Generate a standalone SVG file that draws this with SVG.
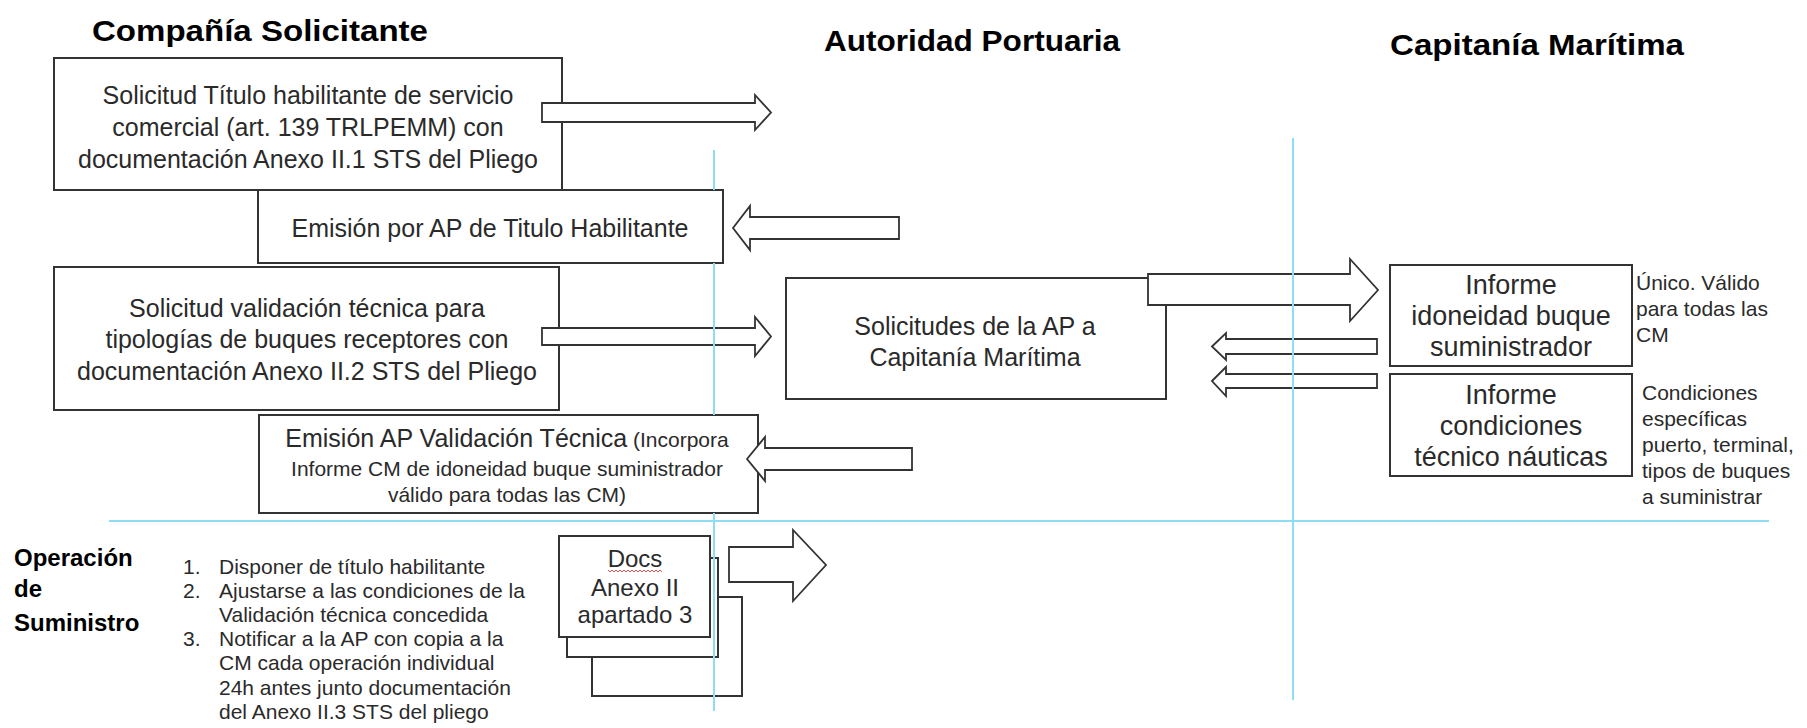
<svg xmlns="http://www.w3.org/2000/svg" width="1807" height="728" viewBox="0 0 1807 728">
<style>
.box{fill:#fff;stroke:#333;stroke-width:2}
.arr{fill:#fff;stroke:#333;stroke-width:1.8;stroke-linejoin:miter}
.guide{stroke:#8fdcf5;stroke-width:2;fill:none}
.t{font-family:"Liberation Sans",Arial,sans-serif;fill:#2a2a2a}
.c{text-anchor:middle}
.h{font-weight:bold;fill:#000}
.b25{font-size:25px}
.b27{font-size:27px}
.s21{font-size:21px}
</style>
<rect width="1807" height="728" fill="#fff"/>

<g id="titles">
<text class="t h" x="92" y="41" font-size="30" textLength="336" lengthAdjust="spacingAndGlyphs">Compañía Solicitante</text>
<text class="t h" x="824" y="51" font-size="30" textLength="296" lengthAdjust="spacingAndGlyphs">Autoridad Portuaria</text>
<text class="t h" x="1390" y="55" font-size="30" textLength="294" lengthAdjust="spacingAndGlyphs">Capitanía Marítima</text>
</g>

<g id="n1">
<rect class="box" x="54" y="58" width="508" height="132"/>
<text class="t c b25" x="308" y="104">Solicitud Título habilitante de servicio</text>
<text class="t c b25" x="308" y="136">comercial (art. 139 TRLPEMM) con</text>
<text class="t c b25" x="308" y="168">documentación Anexo II.1 STS del Pliego</text>
</g>

<g id="n2">
<rect class="box" x="258" y="190" width="465" height="73"/>
<text class="t c b25" x="490" y="237">Emisión por AP de Titulo Habilitante</text>
</g>

<g id="n3">
<rect class="box" x="54" y="267" width="505" height="143"/>
<text class="t c b25" x="307" y="317">Solicitud validación técnica para</text>
<text class="t c b25" x="307" y="348">tipologías de buques receptores con</text>
<text class="t c b25" x="307" y="380">documentación Anexo II.2 STS del Pliego</text>
</g>

<g id="n4">
<rect class="box" x="786" y="278" width="380" height="121"/>
<text class="t c b25" x="975" y="335">Solicitudes de la AP a</text>
<text class="t c b25" x="975" y="366">Capitanía Marítima</text>
</g>

<g id="n5">
<rect class="box" x="1390" y="265" width="242" height="101"/>
<text class="t c b27" x="1511" y="294">Informe</text>
<text class="t c b27" x="1511" y="325">idoneidad buque</text>
<text class="t c b27" x="1511" y="356">suministrador</text>
</g>

<g id="n6">
<rect class="box" x="1390" y="374" width="242" height="102"/>
<text class="t c b27" x="1511" y="404">Informe</text>
<text class="t c b27" x="1511" y="435">condiciones</text>
<text class="t c b27" x="1511" y="466">técnico náuticas</text>
</g>

<g id="n7">
<rect class="box" x="259" y="415" width="499" height="98"/>
<text class="t c" x="507" y="447"><tspan font-size="25">Emisión AP Validación Técnica</tspan><tspan font-size="21"> (Incorpora</tspan></text>
<text class="t c s21" x="507" y="476">Informe CM de idoneidad buque suministrador</text>
<text class="t c s21" x="507" y="502">válido para todas las CM)</text>
</g>

<g id="note1">
<text class="t s21" x="1636" y="290">Único. Válido</text>
<text class="t s21" x="1636" y="316">para todas las</text>
<text class="t s21" x="1636" y="342">CM</text>
</g>

<g id="note2">
<text class="t s21" x="1642" y="400">Condiciones</text>
<text class="t s21" x="1642" y="426">específicas</text>
<text class="t s21" x="1642" y="452">puerto, terminal,</text>
<text class="t s21" x="1642" y="478">tipos de buques</text>
<text class="t s21" x="1642" y="504">a suministrar</text>
</g>

<g id="operacion">
<text class="t h" x="14" y="566" font-size="24">Operación</text>
<text class="t h" x="14" y="597" font-size="24">de</text>
<text class="t h" x="14" y="631" font-size="24">Suministro</text>
</g>

<g id="lista">
<text class="t s21" x="183" y="574">1.</text>
<text class="t s21" x="219" y="574">Disponer de título habilitante</text>
<text class="t s21" x="183" y="598">2.</text>
<text class="t s21" x="219" y="598">Ajustarse a las condiciones de la</text>
<text class="t s21" x="219" y="622">Validación técnica concedida</text>
<text class="t s21" x="183" y="646">3.</text>
<text class="t s21" x="219" y="646">Notificar a la AP con copia a la</text>
<text class="t s21" x="219" y="670">CM cada operación individual</text>
<text class="t s21" x="219" y="695">24h antes junto documentación</text>
<text class="t s21" x="219" y="719">del Anexo II.3 STS del pliego</text>
</g>

<g id="docs">
<rect class="box" x="592" y="597" width="150" height="99"/>
<rect class="box" x="567" y="558" width="151" height="99"/>
<rect class="box" x="559" y="536" width="151" height="101"/>
<text class="t c" x="635" y="567" font-size="24">Docs</text>
<path d="M608 570 l2 2 l2 -2 l2 2 l2 -2 l2 2 l2 -2 l2 2 l2 -2 l2 2 l2 -2 l2 2 l2 -2 l2 2 l2 -2 l2 2 l2 -2 l2 2 l2 -2 l2 2 l2 -2 l2 2 l2 -2 l2 2 l2 -2 l2 2 l2 -2 l2 2" fill="none" stroke="#e05555" stroke-width="1"/>
<text class="t c" x="635" y="596" font-size="24">Anexo II</text>
<text class="t c" x="635" y="623" font-size="24">apartado 3</text>
</g>

<g id="connectors">
<polygon class="arr" points="542,103 755,103 755,95 771,112.5 755,130 755,122 542,122"/>
<polygon class="arr" points="733,228 750,206 750,217 899,217 899,239 750,239 750,250"/>
<polygon class="arr" points="542,328 755,328 755,317 771,336.5 755,356 755,345 542,345"/>
<polygon class="arr" points="1148,274 1350,274 1350,259 1378,290 1350,321 1350,305 1148,305"/>
<polygon class="arr" points="1212,346.5 1226,333 1226,339 1377,339 1377,354 1226,354 1226,360"/>
<polygon class="arr" points="1212,381 1226,367 1226,374 1377,374 1377,388 1226,388 1226,396"/>
<polygon class="arr" points="747,459 765,437 765,448 912,448 912,470 765,470 765,481"/>
<polygon class="arr" points="729,547 793,547 793,530 826,565 793,601 793,582 729,582"/>
</g>

<g id="guides">
<line class="guide" x1="714" y1="150" x2="714" y2="190"/>
<line class="guide" x1="714" y1="263" x2="714" y2="415"/>
<line class="guide" x1="714" y1="513" x2="714" y2="711"/>
<line class="guide" x1="1293" y1="138" x2="1293" y2="700"/>
<line class="guide" x1="109" y1="521" x2="1769" y2="521"/>
</g>
</svg>
